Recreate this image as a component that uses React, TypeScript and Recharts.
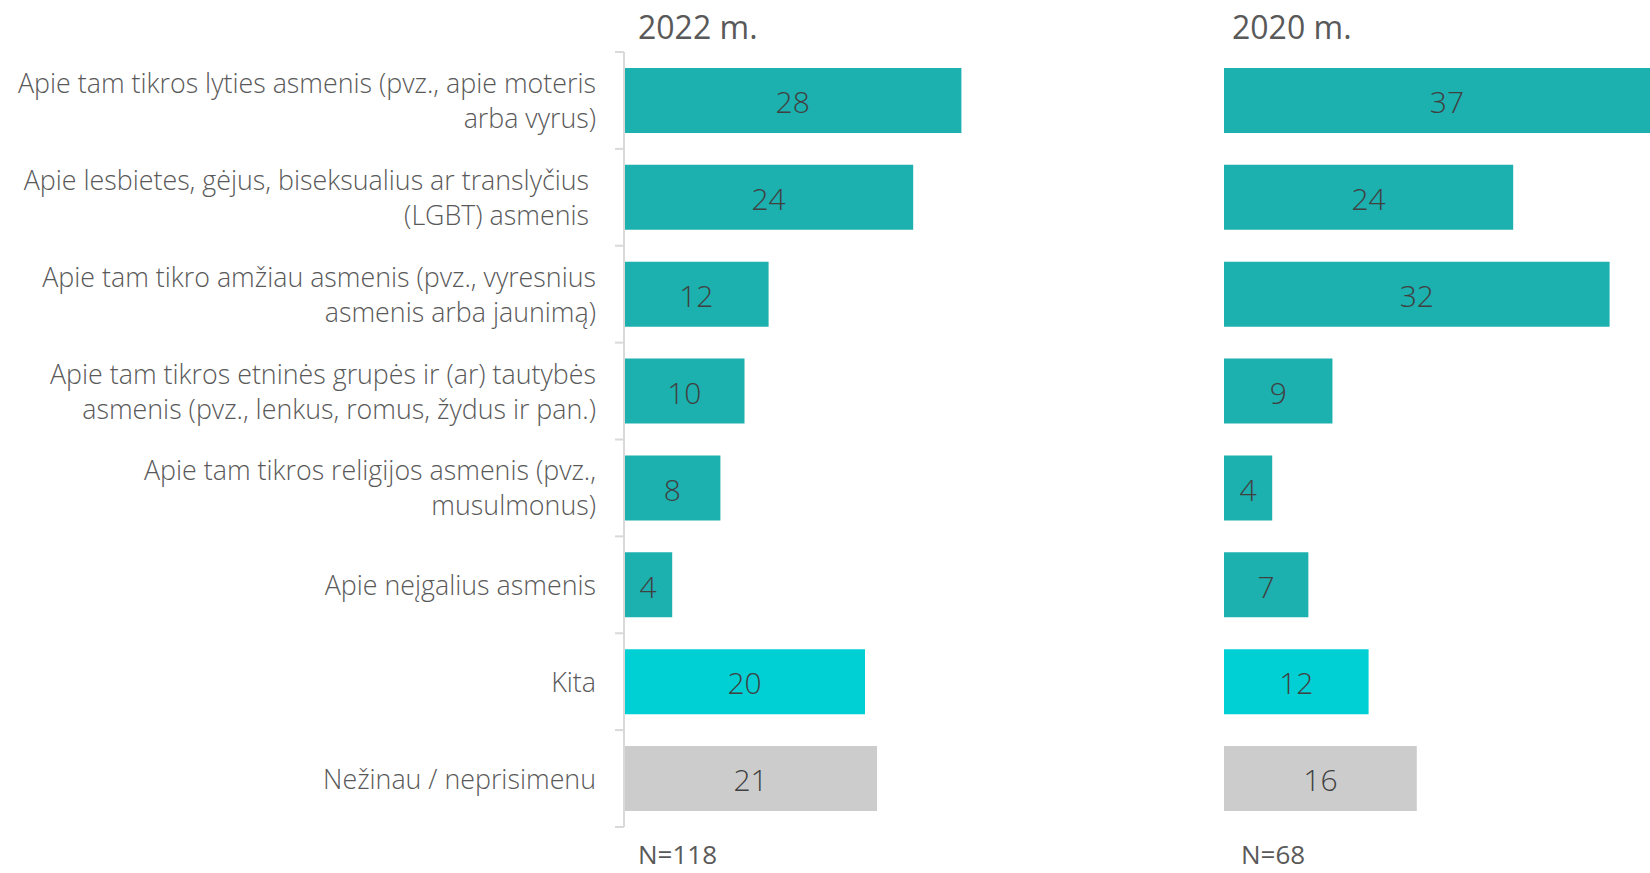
import { BarChart, Bar, XAxis, YAxis, Cell, LabelList } from 'recharts';

// category labels, already broken into the lines used in the picture
const categories: string[][] = [
    ['Apie tam tikros lyties asmenis (pvz., apie moteris', 'arba vyrus)'],
    ['Apie lesbietes, gėjus, biseksualius ar translyčius\u00A0', '(LGBT) asmenis\u00A0'],
    ['Apie tam tikro amžiau asmenis (pvz., vyresnius', 'asmenis arba jaunimą)'],
    ['Apie tam tikros etninės grupės ir (ar) tautybės', 'asmenis (pvz., lenkus, romus, žydus ir pan.)'],
    ['Apie tam tikros religijos asmenis (pvz.,', 'musulmonus)'],
    ['Apie neįgalius asmenis'],
    ['Kita'],
    ['Nežinau / neprisimenu'],
];

const values2022 = [28, 24, 12, 10, 8, 4, 20, 21];
const values2020 = [37, 24, 32, 9, 4, 7, 12, 16];
const barColors = ['#1cb0af', '#1cb0af', '#1cb0af', '#1cb0af', '#1cb0af', '#1cb0af', '#00cfd3', '#cccccc'];

const titles = ['2022 m.', '2020 m.'];
const sampleSizes = ['N=118', 'N=68'];

const data = categories.map((lines, i) => ({
    name: lines.join(' '),
    v2022: values2022[i],
    v2020: values2020[i],
}));

const AXIS_X = 624;
const LABEL_X = 596;
const TOP = 52;
const BOTTOM = 46;
const PLOT_W = 482;
const H = 873;
const font = '"Open Sans", "Noto Sans", sans-serif';

const CategoryTick = (props: any) => {
    const { y, index, payload } = props;
    const lines = categories[index] || [String(payload.value)];
    const half = payload.offset || 48.4;
    const last = index === categories.length - 1;
    return (
        <g>
            <line x1={AXIS_X - 9} x2={AXIS_X} y1={y - half} y2={y - half} stroke="#d9d9d9" strokeWidth={2} />
            {last && <line x1={AXIS_X - 9} x2={AXIS_X} y1={y + half} y2={y + half} stroke="#d9d9d9" strokeWidth={2} />}
            <text textAnchor="end" dominantBaseline="central" fontSize={26.8} fontWeight={300} fill="#595959" fontFamily={font}>
                {lines.map((l, i) => (
                    <tspan key={i} x={LABEL_X} y={y - 1 + (i - (lines.length - 1) / 2) * 35}>{l}</tspan>
                ))}
            </text>
        </g>
    );
};

const labelStyle = { fill: '#404040', fontSize: 30, fontWeight: 300, fontFamily: font };

export default function App() {
    return (
        <div style={{ position: 'absolute', left: 0, top: 0, width: 1650, height: H, overflow: 'hidden', background: '#fff', fontFamily: font }}>
            <div style={{ position: 'absolute', left: 0, top: 0 }}>
                <BarChart width={AXIS_X + PLOT_W} height={H} data={data} layout="vertical"
                    margin={{ top: TOP, right: 0, bottom: BOTTOM, left: 0 }} barCategoryGap="16.5%">
                    <XAxis type="number" domain={[0, 40]} hide />
                    <YAxis type="category" dataKey="name" width={AXIS_X} interval={0} tickLine={false}
                        axisLine={{ stroke: '#d9d9d9', strokeWidth: 2 }} tick={<CategoryTick />} />
                    <Bar dataKey="v2022" isAnimationActive={false}>
                        {data.map((_, i) => <Cell key={i} fill={barColors[i]} />)}
                        <LabelList dataKey="v2022" position="center" dy={2} style={labelStyle} />
                    </Bar>
                </BarChart>
            </div>
            <div style={{ position: 'absolute', left: 1224, top: 0 }}>
                <BarChart width={PLOT_W} height={H} data={data} layout="vertical"
                    margin={{ top: TOP, right: 0, bottom: BOTTOM, left: 0 }} barCategoryGap="16.5%">
                    <XAxis type="number" domain={[0, 40]} hide />
                    <YAxis type="category" dataKey="name" hide />
                    <Bar dataKey="v2020" isAnimationActive={false}>
                        {data.map((_, i) => <Cell key={i} fill={barColors[i]} />)}
                        <LabelList dataKey="v2020" position="center" dy={2} style={labelStyle} />
                    </Bar>
                </BarChart>
            </div>
            <div style={{ position: 'absolute', left: 638, top: 5, fontSize: 32, color: '#595959' }}>{titles[0]}</div>
            <div style={{ position: 'absolute', left: 1232, top: 5, fontSize: 32, color: '#595959' }}>{titles[1]}</div>
            <div style={{ position: 'absolute', left: 638, top: 837, fontSize: 26, lineHeight: '34px', color: '#595959' }}>{sampleSizes[0]}</div>
            <div style={{ position: 'absolute', left: 1241, top: 837, fontSize: 26, lineHeight: '34px', color: '#595959' }}>{sampleSizes[1]}</div>
        </div>
    );
}
